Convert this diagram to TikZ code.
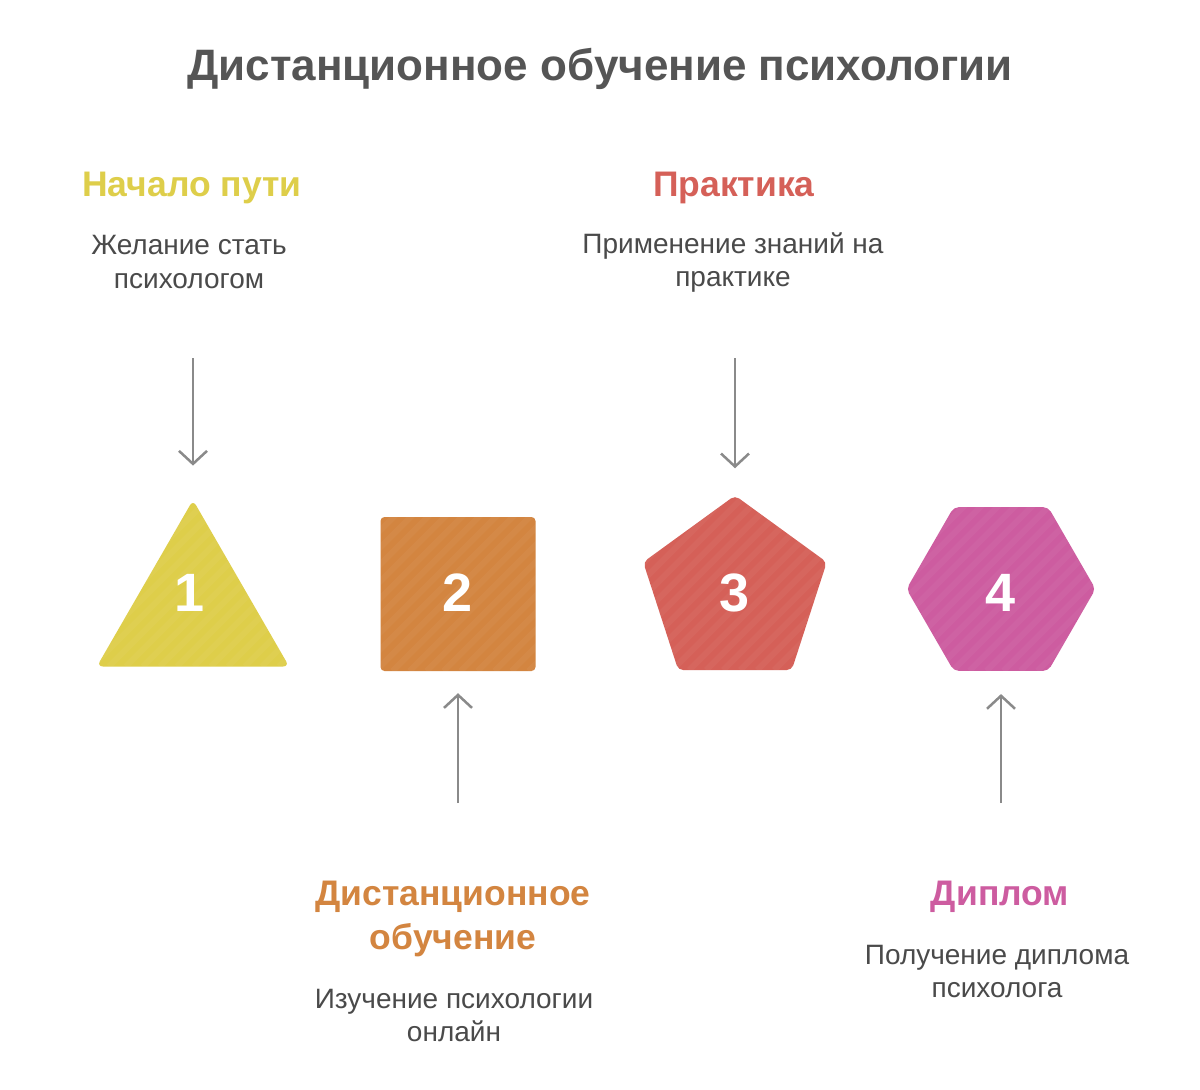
\documentclass[tikz,border=0pt]{standalone}
\usepackage{fontspec}
\setmainfont{Liberation Sans}
\usetikzlibrary{shapes.geometric,arrows.meta}

\definecolor{stepyellow}{HTML}{DECE4A}
\definecolor{steporange}{HTML}{D38540}
\definecolor{stepred}{HTML}{D56058}
\definecolor{steppink}{HTML}{CD5CA0}
\definecolor{arrowgray}{HTML}{8A8A8A}
\definecolor{titlegray}{HTML}{555555}
\definecolor{descgray}{HTML}{4A4A4A}

\tikzset{
    stripy/.style={path picture={%
        \foreach \i in {-260,-243,...,260} {%
            \draw[white, opacity=0.04, line width=6pt]
                ([xshift=\i pt]path picture bounding box.south west) -- ++(300,-300);}}},
    shapebox/.style={draw=none, inner sep=0pt, stripy},
    tri/.style={shapebox, regular polygon, regular polygon sides=3, minimum size=222pt, rounded corners=6pt},
    sq/.style={shapebox, rectangle, minimum width=155pt, minimum height=154pt, rounded corners=4pt},
    penta/.style={shapebox, regular polygon, regular polygon sides=5, minimum size=193pt, rounded corners=5pt},
    hexa/.style={shapebox, regular polygon, regular polygon sides=6, minimum size=189pt, rounded corners=5pt},
    num/.style={text=white, font=\bfseries\fontsize{54}{54}\selectfont},
    heading/.style={font=\bfseries\fontsize{35.5}{44}\selectfont, align=center},
    desc/.style={font=\fontsize{28}{33}\selectfont, text=descgray, align=center},
    titletext/.style={font=\bfseries\fontsize{44}{56}\selectfont, text=titlegray},
    arr/.style={-{Straight Barb[length=13pt,width=28pt]}, arrowgray, line width=2.5pt},
}

\begin{document}
\begin{tikzpicture}[x=1pt, y=-1pt]
        \fill[white] (0,0) rectangle (1200,1090);

        % Title.
        \node[titletext] (title) at (600,69) {Дистанционное обучение психологии};

        % Shapes.
        \node[tri, fill=stepyellow] (s1) at (193,611) {};
        \node[sq, fill=steporange] (s2) at (458,594) {};
        \node[penta, fill=stepred] (s3) at (735,592) {};
        \node[hexa, fill=steppink] (s4) at (1001,589) {};
        \node[num] (n1) at (190,593) {1};
        \node[num] (n2) at (458,593) {2};
        \node[num] (n3) at (735,593) {3};
        \node[num] (n4) at (1001,593) {4};

        % Top notes.
        \node[heading, text=stepyellow] (h1) at (192,188) {Начало пути};
        \node[desc] (d1) at (189,262) {Желание стать\\психологом};
        \node[heading, text=stepred] (h3) at (734,188) {Практика};
        \node[desc] (d3) at (733,263) {Применение знаний на\\практике};

        % Bottom notes.
        \node[heading, text=steporange] (h2) at (453,919) {Дистанционное\\обучение};
        \node[desc] (d2) at (454,1015) {Изучение психологии\\онлайн};
        \node[heading, text=steppink] (h4) at (1000,897) {Диплом};
        \node[desc] (d4) at (997,971) {Получение диплома\\психолога};

        % Arrows.
        \coordinate (a1) at (193,358);
        \coordinate (a2) at (458,803);
        \coordinate (a3) at (735,358);
        \coordinate (a4) at (1001,803);
        \draw[arr, shorten >=34pt] (a1) -- (s1.north);
        \draw[arr, shorten >=22pt] (a2) -- (s2.south);
        \draw[arr, shorten >=27pt] (a3) -- (s3.north);
        \draw[arr, shorten >=23pt] (a4) -- (s4.south);
\end{tikzpicture}
\end{document}
